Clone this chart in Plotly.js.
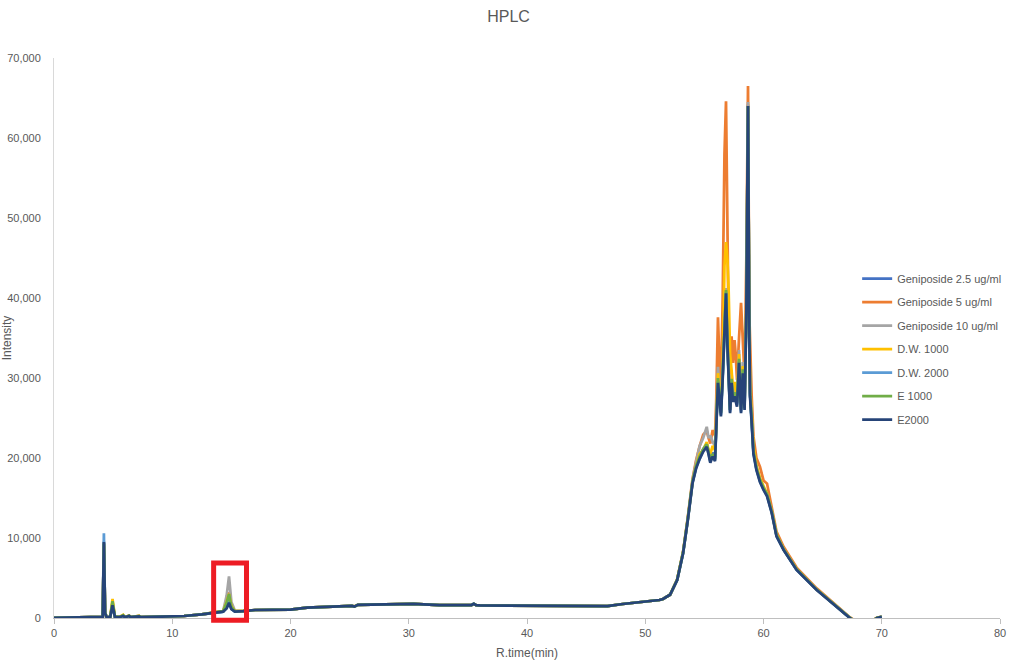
<!DOCTYPE html>
<html>
<head>
<meta charset="utf-8">
<script src="https://cdn.plot.ly/plotly-3.0.1.min.js"></script>
<style>html,body{margin:0;padding:0;background:#fff;}#chart{width:1017px;height:667px;}</style>
</head>
<body>
<div id="chart"></div>
<script>
const rtime = [0,2.0,4.0,4.12,4.22,4.32,4.45,4.75,4.95,5.15,5.5,5.85,6.0,6.35,6.5,7.2,7.35,9.0,11.0,12.5,
13.5,14.3,14.6,14.8,15.0,15.3,16.0,17.0,20.0,21.4,25.2,25.4,25.7,30.4,32.6,35.3,35.5,35.7,36.0,40.0,
46.8,48.1,49.6,51.2,51.5,52.1,52.7,53.2,53.6,54.0,54.3,54.6,54.9,55.2,55.35,55.5,55.7,55.9,56.0,56.15,
56.3,56.4,56.55,56.7,56.83,56.95,57.05,57.17,57.3,57.42,57.55,57.65,57.76,57.93,58.1,58.25,58.4,58.55,58.69,58.8,
58.86,59.0,59.15,59.4,59.7,60.0,60.3,60.7,61.1,61.7,62.8,64.5,66.2,67.3,68.0,69.0,69.6,70.0];

const seriesNames = ["Geniposide 2.5 ug/ml","Geniposide 5 ug/ml","Geniposide 10 ug/ml","D.W. 1000","D.W. 2000","E 1000","E2000"];
const seriesColors = ["#4472C4","#ED7D31","#A5A5A5","#FFC000","#5B9BD5","#70AD47","#264478"];

const geni25 = [0,50,100,150,9400,620,100,100,1700,150,100,250,100,250,100,200,100,150,250,450,
650,800,1300,2000,1150,800,850,1000,1050,1300,1500,1420,1650,1750,1620,1620,1780,1600,1570,1530,
1500,1750,1960,2250,2370,2900,4750,8150,12350,17000,18900,20200,21100,21800,20900,19900,20700,20100,24000,30000,
27500,25700,30500,37500,41000,34500,30500,26000,29800,27400,28100,27300,26800,32300,26000,31000,26400,38500,64200,35400,
28100,24800,20800,18700,17200,16200,15400,13300,10300,8600,6050,3550,1450,30,-680,-580,10,150];

const geni5 = [0,50,100,150,9300,700,100,100,1900,200,100,300,100,300,100,250,100,150,250,450,
650,850,1800,3200,1300,850,850,1000,1050,1300,1500,1450,1650,1750,1620,1620,1750,1600,1570,1530,
1500,1750,1960,2250,2370,2900,4800,8300,12600,17400,19700,21500,22900,23400,22500,21800,23500,22800,27000,37600,
31000,28500,40000,58000,64600,45000,36000,29400,35200,31900,34750,33000,29750,35000,39400,34750,30000,45000,66500,38000,
33900,27700,22700,20000,18900,17200,16800,14000,10800,8900,6300,3700,1550,100,-600,-500,50,150];

const geni10 = [0,50,100,150,9600,650,100,100,1800,150,100,250,100,250,100,200,100,150,250,450,
650,850,2800,5200,2000,900,850,1000,1050,1300,1500,1430,1650,1750,1620,1620,1780,1600,1570,1530,
1500,1750,1960,2250,2370,2900,4800,8250,12500,17200,19500,21500,22500,23900,22500,22800,22000,21500,25000,31400,
28000,26500,31000,38500,41250,35500,31500,27000,30500,28000,29000,28000,27500,33500,27000,32000,27500,40000,64500,36000,
29000,25500,21000,19000,17300,16300,15500,13300,10400,8600,6100,3550,1450,50,-650,-550,20,150];

const dw1000 = [0,50,100,150,9000,700,100,100,2375,200,100,400,100,300,100,250,100,150,250,450,
650,850,2000,3000,1500,850,850,1000,1050,1300,1500,1430,1650,1750,1620,1620,1760,1600,1570,1530,
1500,1750,1960,2250,2370,2900,4800,8200,12400,17000,19000,20500,21000,22000,21000,20500,21500,21000,24500,30600,
28000,26000,32000,44000,47000,44750,41000,33000,31000,28500,29500,28500,27500,33000,27000,31500,27000,39000,64000,36000,
29000,25500,21500,19000,17500,16500,15500,13300,10400,8600,6100,3550,1450,40,-650,-550,20,150];

const dw2000 = [0,50,100,150,10600,650,100,100,1700,150,100,250,100,250,100,200,100,150,250,450,
650,800,1300,2200,1150,800,850,1000,1050,1300,1500,1420,1650,1750,1620,1620,1780,1600,1570,1530,
1500,1750,1960,2250,2370,2900,4750,8100,12300,16950,18800,20000,20950,21550,20650,19550,20350,19750,23700,29600,
27200,25400,30200,37200,40800,34200,30200,25800,29600,27200,27900,27100,26600,32100,25800,30800,26200,38200,64000,35200,
27900,24600,20650,18600,17100,16100,15300,13200,10250,8550,6030,3520,1420,10,-690,-590,5,150];

const e1000 = [0,50,100,150,9300,700,100,100,2100,200,100,350,100,300,100,250,100,150,250,450,
650,850,1900,3000,1400,850,850,1000,1050,1300,1500,1430,1650,1750,1620,1620,1780,1600,1570,1530,
1500,1750,1960,2250,2370,2900,4800,8200,12400,17100,19000,20200,21100,21700,20800,19700,20500,19900,23800,30000,
27400,25600,30500,37500,41000,34500,30500,26000,29900,27500,28200,27400,26900,32400,26100,31100,26500,38500,64000,35400,
28100,24900,20900,18800,17300,16300,15500,13300,10400,8600,6100,3550,1450,40,-660,-560,20,150];

const e2000 = [0,50,100,150,9500,600,100,100,1600,150,100,250,100,250,100,200,100,150,250,450,
650,800,1200,1900,1100,800,850,1000,1050,1300,1500,1420,1650,1750,1620,1620,1780,1600,1570,1530,
1500,1750,1960,2250,2370,2900,4750,8100,12250,16860,18700,19900,20800,21400,20500,19400,20200,19600,23500,29400,
27000,25200,30000,37000,40600,34000,30000,25600,29400,27000,27700,26900,26400,31900,25600,30600,26000,38000,64000,35000,
27700,24400,20500,18500,17000,16000,15200,13100,10200,8500,6000,3500,1400,0,-700,-600,0,150];

const seriesValues = [geni25, geni5, geni10, dw1000, dw2000, e1000, e2000];

const xTicks = [0,10,20,30,40,50,60,70,80];
const yTicks = [0,10000,20000,30000,40000,50000,60000,70000];

const FONT = "Liberation Sans, Arial, sans-serif";
const traces = seriesNames.map((name, i) => ({
  type: "scatter",
  mode: "lines",
  name: name,
  x: rtime,
  y: seriesValues[i],
  line: {color: seriesColors[i], width: 2.75},
  legendgroup: "g" + i,
  hoverinfo: "x+y+name"
}));

const layout = {
  width: 1017,
  height: 667,
  margin: {l: 54, r: 17, t: 58, b: 49, autoexpand: false},
  paper_bgcolor: "#ffffff",
  plot_bgcolor: "#ffffff",
  font: {family: FONT, color: "#595959", size: 11},
  title: {text: "HPLC", font: {family: FONT, size: 16, color: "#595959"}, x: 0.5, xanchor: "center", y: 0.975, yanchor: "middle"},
  showlegend: true,
  legend: {
    x: 0.849, y: 0.632, xanchor: "left", yanchor: "top",
    bgcolor: "rgba(0,0,0,0)",
    font: {family: FONT, size: 11, color: "#595959"},
    tracegroupgap: 4.5
  },
  xaxis: {
    range: [0, 80],
    tickvals: xTicks,
    ticktext: xTicks.map(String),
    showgrid: false,
    zeroline: false,
    showline: true,
    linecolor: "#BFBFBF",
    linewidth: 1,
    ticks: "outside",
    ticklen: 5,
    tickcolor: "#BFBFBF",
    tickfont: {family: FONT, size: 11, color: "#595959"},
    title: {text: "R.time(min)", font: {family: FONT, size: 12, color: "#595959"}, standoff: 10},
    fixedrange: true
  },
  yaxis: {
    range: [0, 70000],
    tickvals: yTicks,
    ticktext: yTicks.map(v => v.toLocaleString("en-US")),
    showgrid: false,
    zeroline: false,
    showline: true,
    linecolor: "#D9D9D9",
    linewidth: 1,
    ticks: "",
    ticklabelstandoff: 10,
    tickfont: {family: FONT, size: 11, color: "#595959"},
    title: {text: "Intensity", font: {family: FONT, size: 12, color: "#595959"}, standoff: 6},
    fixedrange: true
  },
  shapes: [{
    type: "rect", xref: "x", yref: "paper",
    x0: 13.5, x1: 16.28, y0: -0.004, y1: 0.098,
    line: {color: "#ED1C24", width: 5},
    fillcolor: "rgba(0,0,0,0)",
    layer: "above"
  }]
};

Plotly.newPlot("chart", traces, layout, {displayModeBar: false, staticPlot: true});
</script>
</body>
</html>
